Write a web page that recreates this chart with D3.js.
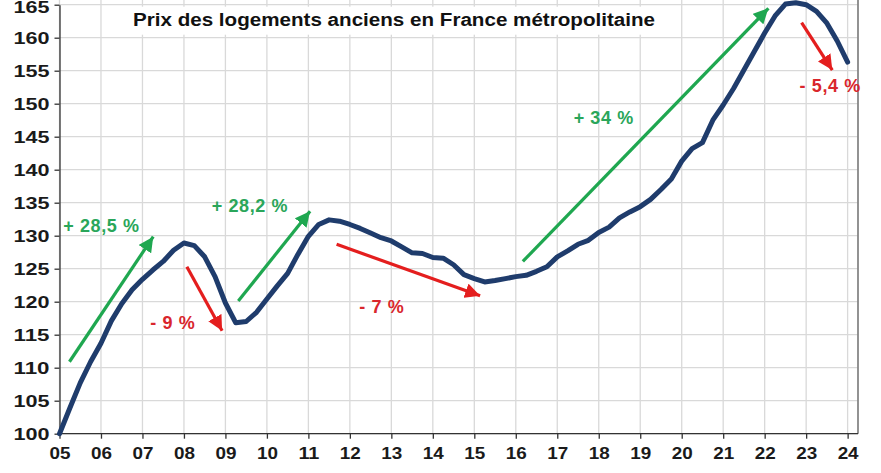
<!DOCTYPE html>
<html>
<head>
<meta charset="utf-8">
<script src="https://cdn.jsdelivr.net/npm/d3@7"></script>
<style>
  body { margin: 0; background: #fff; }
  svg { display: block; font-family: "Liberation Sans", Arial, sans-serif; }
  .grid line { stroke: #d9d9d9; stroke-width: 1.3; }
  .axis path, .axis line { stroke: #333; stroke-width: 1.3; }
  .axis text { font-weight: bold; fill: #1a1a1a; }
</style>
</head>
<body>
<svg id="chart"></svg>
<script>
// quarterly index, 2005 Q1 = 100
let startYear = 2005;
let prices = [
  100.0, 103.9, 107.7, 110.9,
  113.7, 117.1, 119.7, 121.8,
  123.4, 124.8, 126.1, 127.8,
  128.9, 128.5, 126.8, 123.8,
  119.8, 116.8, 117.0, 118.4,
  120.4, 122.4, 124.3, 127.2,
  129.9, 131.7, 132.4, 132.2,
  131.7, 131.1, 130.4, 129.7,
  129.2, 128.3, 127.4, 127.3,
  126.7, 126.6, 125.6, 124.1,
  123.5, 123.0, 123.2, 123.5,
  123.8, 124.0, 124.6, 125.3,
  126.8, 127.7, 128.7, 129.3,
  130.5, 131.3, 132.7, 133.6,
  134.4, 135.5, 137.0, 138.6,
  141.3, 143.2, 144.1, 147.5,
  149.8, 152.3, 155.1, 157.9,
  160.7, 163.3, 165.1, 165.3,
  165.0, 164.0, 162.2, 159.5,
  156.3
];
let yearTicks = d3.range(2005, 2025);
let valueTicks = d3.range(100, 166, 5);

// annotation arrows: [year, value] tail -> tip
let arrowFrom = [[2005.24, 110.9], [2008.07, 125.3], [2009.31, 120.1], [2011.68, 128.7], [2016.17, 126.1], [2022.89, 162.3]];
let arrowTo   = [[2007.26, 129.85], [2008.92, 115.6], [2011.04, 133.7], [2015.14, 120.9], [2022.09, 164.45], [2023.63, 155.1]];
let arrowKind = ["up", "down", "up", "down", "up", "down"];
let labelText = ["+ 28,5 %", "- 9 %", "+ 28,2 %", "- 7 %", "+ 34 %", "- 5,4 %"];
let labelAt   = [[2006.01, 131.5], [2007.73, 116.7], [2009.59, 134.5], [2012.77, 119.15], [2018.12, 147.8], [2023.58, 152.7]];

let title = "Prix des logements anciens en France métropolitaine";

let W = 881, H = 473;
let margin = {top: 4.7, right: 23, bottom: 39.3, left: 59.5};
let width = W - margin.left - margin.right,
    height = H - margin.top - margin.bottom;

let colors = {up: "#1fa750", down: "#e41e1e"};
let textColors = {up: "#2aa65a", down: "#d9262c"};

let x = d3.scaleLinear().domain([2005, 2024.25]).range([0, width]);
let y = d3.scaleLinear().domain([100, 165]).range([height, 0]);

let svg = d3.select("#chart").attr("width", W).attr("height", H)
  .append("g")
    .attr("transform", "translate(" + margin.left + "," + margin.top + ")");

let defs = svg.append("defs");
Object.keys(colors).forEach(function(k) {
  defs.append("marker")
      .attr("id", "head-" + k)
      .attr("markerUnits", "userSpaceOnUse")
      .attr("viewBox", "0 0 12 12")
      .attr("refX", 12).attr("refY", 6)
      .attr("markerWidth", 15).attr("markerHeight", 15)
      .attr("orient", "auto")
    .append("path")
      .attr("d", "M0,0 L12,6 L0,12 Z")
      .attr("fill", colors[k]);
});

// gridlines
svg.append("g").attr("class", "grid")
  .selectAll("line.v").data(yearTicks.concat([2024.25]))
  .enter().append("line")
    .attr("x1", d => x(d)).attr("x2", d => x(d))
    .attr("y1", -margin.top).attr("y2", height);
svg.append("g").attr("class", "grid")
  .selectAll("line.h").data(valueTicks)
  .enter().append("line")
    .attr("x1", 0).attr("x2", width)
    .attr("y1", d => y(d)).attr("y2", d => y(d));

// right border
svg.append("line")
    .attr("x1", width).attr("x2", width)
    .attr("y1", -margin.top).attr("y2", height)
    .attr("stroke", "#666").attr("stroke-width", 1.3);

// title with white box
svg.append("rect")
    .attr("x", 66).attr("y", 2).attr("width", 537).attr("height", 28)
    .attr("fill", "#fff");
svg.append("text")
    .attr("x", 334.5).attr("y", 15.3)
    .attr("text-anchor", "middle")
    .attr("dominant-baseline", "central")
    .attr("font-size", 18).attr("font-weight", "bold").attr("fill", "#111")
    .attr("textLength", 522).attr("lengthAdjust", "spacingAndGlyphs")
    .text(title);

// axes
let xAxis = svg.append("g")
    .attr("class", "axis")
    .attr("transform", "translate(0," + height + ")")
    .call(d3.axisBottom(x).tickValues(yearTicks).tickSize(5).tickSizeOuter(0)
      .tickFormat(d => d3.format("02d")(d % 100)));
xAxis.select(".domain").attr("d", "M0,0H" + width);
xAxis.selectAll("text").attr("font-size", 17).attr("dy", "0").attr("y", 25)
    .attr("textLength", 21).attr("lengthAdjust", "spacingAndGlyphs");

let yAxis = svg.append("g")
    .attr("class", "axis")
    .call(d3.axisLeft(y).tickValues(valueTicks).tickSize(5).tickSizeOuter(0));
yAxis.selectAll("text").attr("font-size", 16).attr("x", -10)
    .attr("dy", d => d === 165 ? "0.5em" : "0.36em")
    .attr("textLength", 36).attr("lengthAdjust", "spacingAndGlyphs");

// price line
let line = d3.line()
    .x((d, i) => x(startYear + i / 4))
    .y(d => y(d));

svg.append("path")
    .datum(prices)
    .attr("fill", "none")
    .attr("stroke", "#1f3c6c")
    .attr("stroke-width", 5)
    .attr("stroke-linejoin", "round")
    .attr("stroke-linecap", "round")
    .attr("d", line);

// arrows
svg.selectAll(".arrow")
    .data(arrowFrom)
  .enter().append("line")
    .attr("class", "arrow")
    .attr("x1", d => x(d[0])).attr("y1", d => y(d[1]))
    .attr("x2", (d, i) => x(arrowTo[i][0])).attr("y2", (d, i) => y(arrowTo[i][1]))
    .attr("stroke", (d, i) => colors[arrowKind[i]])
    .attr("stroke-width", 3.2)
    .attr("marker-end", (d, i) => "url(#head-" + arrowKind[i] + ")");

// labels
svg.selectAll(".lbl")
    .data(labelText)
  .enter().append("text")
    .attr("class", "lbl")
    .attr("x", (d, i) => x(labelAt[i][0]))
    .attr("y", (d, i) => y(labelAt[i][1]))
    .attr("text-anchor", "middle")
    .attr("dominant-baseline", "central")
    .attr("font-size", 18).attr("font-weight", "bold")
    .attr("letter-spacing", 0.6)
    .attr("fill", (d, i) => textColors[arrowKind[i]])
    .text(d => d);
</script>
</body>
</html>
